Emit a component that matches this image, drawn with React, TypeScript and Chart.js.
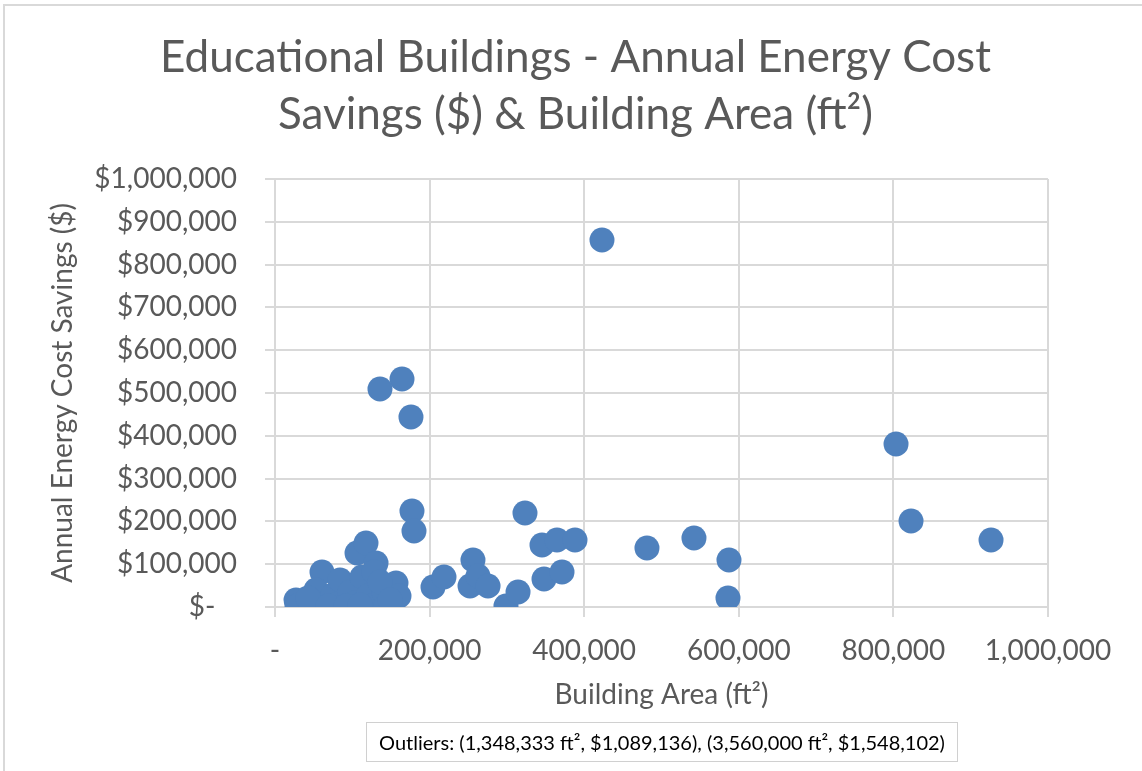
import React, { useEffect, useRef } from "react";
import { Chart, registerables } from "chart.js";

Chart.register(...registerables);

const titleLines = ["Educational Buildings - Annual Energy Cost", "Savings ($) & Building Area (ft\u00B2)"];
const xAxisTitle = "Building Area (ft\u00B2)";
const yAxisTitle = "Annual Energy Cost Savings ($)";
const outlierNote = "Outliers: (1,348,333 ft\u00B2, $1,089,136), (3,560,000 ft\u00B2, $1,548,102)";

const buildingArea = [
  27200, 28500, 60800, 53000, 58200, 75000, 84100, 81500, 97000, 103500,
  106100, 117700, 112500, 130700, 128100, 120300, 125500, 141000, 143600, 156500,
  160400, 135800, 42700, 68600, 91900, 110000, 148800,
  177200, 179800, 164300, 135800, 175900, 204400, 218600, 252300, 256100,
  262600, 275600, 298800, 314400, 323400, 345400, 348000, 364800, 371300,
  388100, 423000, 481200, 542000, 587300, 586000, 803400, 822800, 926300,
];
const costSavings = [
  16400, 2300, 81800, 39700, 7000, 28000, 63100, 7000, 35000, 9300,
  126100, 149500, 70100, 102800, 81800, 25700, 2300, 35000, 2300, 56100,
  25700, 58400, 21000, 2300, 2300, 4700, 16400,
  224300, 177500, 532600, 509300, 443900, 46700, 70100, 49100, 109800,
  72400, 49100, 2300, 35000, 219600, 144800, 65400, 156500, 81800,
  156500, 857300, 137900, 161200, 109800, 21000, 380800, 200900, 156500,
];

const xMin = 0;
const xMax = 1000000;
const xStep = 200000;
const yMin = 0;
const yMax = 1000000;
const yStep = 100000;

const FONT = "Lato, 'Open Sans', sans-serif";
const TEXT = "#595959";
const GRID = "#D9D9D9";
const MARK = "#4F81BD";

export default function App() {
  const ref = useRef<HTMLCanvasElement | null>(null);

  useEffect(() => {
    document.body.style.margin = "0";
    const canvas = ref.current;
    if (!canvas) return;
    const points = buildingArea.map((x, i) => ({ x, y: costSavings[i] }));
    const chart = new Chart(canvas, {
      type: "scatter",
      data: {
        datasets: [
          {
            data: points,
            backgroundColor: MARK,
            borderColor: MARK,
            borderWidth: 0,
            pointRadius: 12.5,
            pointHoverRadius: 12.5,
          },
        ],
      },
      options: {
        animation: false,
        responsive: false,
        devicePixelRatio: 1,
        layout: { padding: { left: 13, right: 4, top: 0, bottom: 0 } },
        plugins: {
          legend: { display: false },
          tooltip: { enabled: false },
          title: {
            display: true,
            text: titleLines,
            color: TEXT,
            font: { family: FONT, size: 44, weight: "normal", lineHeight: 1.3 },
            padding: { top: 29.5, bottom: 35 },
          },
        },
        scales: {
          x: {
            type: "linear",
            position: "bottom",
            min: xMin,
            max: xMax,
            afterFit: (s: any) => {
              s.height = 164;
            },
            ticks: {
              stepSize: xStep,
              color: TEXT,
              padding: 17,
              maxRotation: 0,
              font: { family: FONT, size: 28 },
              callback: (v: any) => (Number(v) === 0 ? "-" : Number(v).toLocaleString("en-US")),
            },
            grid: { color: GRID, lineWidth: 2, tickLength: 10, drawTicks: true },
            border: { color: GRID, width: 2 },
            title: {
              display: true,
              text: xAxisTitle,
              color: TEXT,
              font: { family: FONT, size: 28 },
              padding: { top: 0, bottom: 59 },
            },
          },
          y: {
            type: "linear",
            position: "left",
            min: yMin,
            max: yMax,
            afterFit: (s: any) => {
              s.width = 262;
            },
            ticks: {
              stepSize: yStep,
              color: TEXT,
              padding: 28,
              font: { family: FONT, size: 28 },
              callback: (v: any) => (Number(v) === 0 ? "$-   " : "$" + Number(v).toLocaleString("en-US")),
            },
            grid: { color: GRID, lineWidth: 2, tickLength: 10, drawTicks: true },
            border: { color: GRID, width: 2 },
            title: {
              display: true,
              text: yAxisTitle,
              color: TEXT,
              font: { family: FONT, size: 28 },
              padding: { top: 33, bottom: 0 },
            },
          },
          y2: {
            type: "linear",
            position: "right",
            display: true,
            afterFit: (s: any) => {
              s.width = 90;
            },
            ticks: { display: false },
            grid: { display: false },
            border: { display: false },
          },
        },
      },
    });
    return () => chart.destroy();
  }, []);

  return (
    <div style={{ position: "relative", width: 1142, height: 771, background: "#fff", overflow: "hidden" }}>
      <canvas ref={ref} width={1142} height={771} style={{ display: "block", width: 1142, height: 771 }} />
      <div
        style={{
          position: "absolute",
          left: 3,
          top: 4,
          right: -10,
          bottom: -10,
          borderLeft: "2px solid #D9D9D9",
          borderTop: "2px solid #D9D9D9",
          pointerEvents: "none",
        }}
      />
      <div
        style={{
          position: "absolute",
          left: 366,
          top: 722,
          width: 592,
          height: 40,
          boxSizing: "border-box",
          border: "1.5px solid #D0D0D0",
          display: "flex",
          alignItems: "center",
          justifyContent: "center",
          fontFamily: FONT,
          fontSize: 20,
          color: "#000",
          whiteSpace: "nowrap",
        }}
      >
        {outlierNote}
      </div>
    </div>
  );
}
